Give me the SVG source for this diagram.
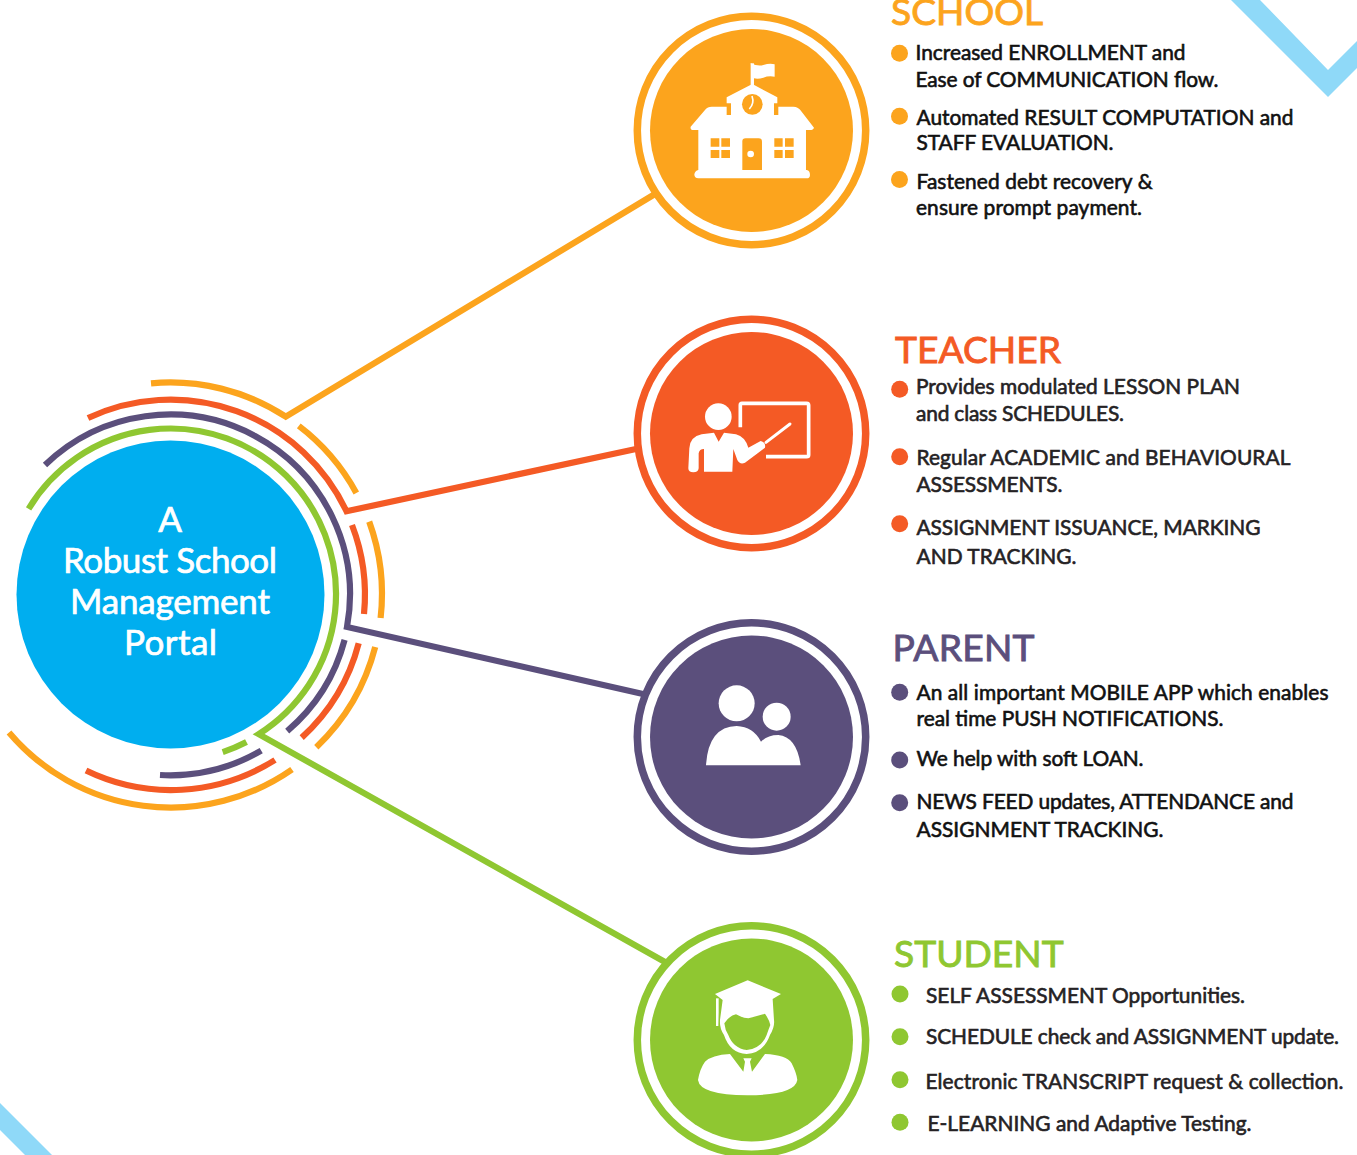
<svg xmlns="http://www.w3.org/2000/svg" width="1357" height="1155" viewBox="0 0 1357 1155">
<style>
text{font-family:"Lato","Liberation Sans",sans-serif}
.b{font-size:20.9px;font-weight:400;fill:#111;stroke:#111;stroke-width:.6}
.g{fill:#252224;stroke:#252224}
.h{font-size:37.2px;font-weight:400;stroke-width:.9}
.t{font-size:35px;font-weight:400;fill:#fff;stroke:#fff;stroke-width:.7;text-anchor:middle}
.arc{fill:none;stroke-width:6.2;stroke-miterlimit:12}
.o{stroke:#fca41d}.r{stroke:#f45a25}.p{stroke:#5b4f7c}.v{stroke:#8fc731}
.fo{fill:#fca41d}.fr{fill:#f45a25}.fp{fill:#5b4f7c}.fv{fill:#8fc731}
.ring{fill:none;stroke-width:7.5}
.w{fill:#fff}
</style>
<g id="decor">
<polygon points="1231,0 1260,0 1328,70 1357,41 1357,68 1328,97" fill="#8fd9f8"/>
<polygon points="0,1103 0,1130 25,1155 52,1155" fill="#8fd9f8"/>
</g>
<g id="connectors">
<path class="arc o" d="M151,383.300 A211.500,211.500 0 0 1 285.800,416.700 L655,194"/>
<path class="arc o" d="M298.800,425.900 A211.500,211.500 0 0 1 356.300,492.900"/>
<path class="arc o" d="M369.200,521.600 A211.500,211.500 0 0 1 380.600,618"/>
<path class="arc o" d="M375.200,647 A211.500,211.500 0 0 1 316.300,747.200"/>
<path class="arc o" d="M292,769.500 A212,212 0 0 1 9,732.500"/>
<path class="arc r" d="M88,418 A194.500,194.500 0 0 1 346.500,511.300 L636,449"/>
<path class="arc r" d="M352,525 A194.500,194.500 0 0 1 364,614"/>
<path class="arc r" d="M358.700,643.200 A194.500,194.500 0 0 1 301.700,737.600"/>
<path class="arc r" d="M275,760 A195,195 0 0 1 86,770.500"/>
<path class="arc p" d="M45,465 A180,180 0 0 1 347,627 L643,694"/>
<path class="arc p" d="M344.600,639.900 A180,180 0 0 1 287.200,731.100"/>
<path class="arc p" d="M261.200,750.600 A181,181 0 0 1 160,775"/>
<path class="arc v" d="M28.600,508.900 A165.500,165.500 0 1 1 258.700,734.100 L665,962"/>
<path class="arc v" d="M246.500,742 A166.500,166.500 0 0 1 222.700,752.100"/>
</g>
<g id="hub">
<circle cx="170.500" cy="594.500" r="154" fill="#00aeef"/>
<text class="t" x="170" y="532">A</text>
<text class="t" x="170" y="573" textLength="214">Robust School</text>
<text class="t" x="170" y="614" textLength="200">Management</text>
<text class="t" x="170.500" y="655" textLength="93">Portal</text>
</g>
<g id="school">
<circle class="ring o" cx="751.500" cy="130.500" r="114.200"/>
<circle class="fo" cx="751.500" cy="130.500" r="101.500"/>
<g transform="translate(630,10) scale(.3333)">
<rect class="w" x="362" y="160" width="10" height="65"/>
<path class="w" d="M362,160 Q385,170 400,165 Q420,158 434,163 L434,200 Q415,197 400,203 Q385,208 372,205 Z"/>
<path class="w" d="M367,222 L442,262 V280 H432 V315 H445 V290 H490 Q505,290 515,305 L552,353 Q550,360 540,360 H528 V480 H530 Q540,482 540,495 Q540,505 530,505 H205 Q193,505 193,493 Q195,482 205,480 V360 H190 Q180,360 182,350 L225,300 Q233,290 245,290 H290 V315 H303 V280 H290 V262 Z"/>
<circle class="fo" cx="367" cy="283" r="31"/>
<path d="M366,258 Q374,280 358,297" fill="none" stroke="#fff" stroke-width="5"/>
<path class="fo" d="M242,385h26v25h-26zM274,385h26v25h-26zM242,420h26v24h-26zM274,420h26v24h-26zM433,385h25v25h-25zM465,385h26v25h-26zM433,420h25v24h-25zM465,420h26v24h-26z"/>
<path class="fo" d="M337,480 V395 Q337,385 347,385 H386 Q396,385 396,395 V480 Z"/>
<circle class="w" cx="362" cy="432" r="10"/>
</g>
<text class="h fo o" x="891" y="24.500">SCHOOL</text>
<circle class="fo" cx="899.500" cy="53.300" r="8.500"/>
<circle class="fo" cx="899.500" cy="116.300" r="8.500"/>
<circle class="fo" cx="899.500" cy="179.500" r="8.500"/>
<text class="b" x="915.500" y="60" textLength="270">Increased ENROLLMENT and</text>
<text class="b" x="915.500" y="87" textLength="303">Ease of COMMUNICATION flow.</text>
<text class="b" x="916.500" y="125" textLength="377">Automated RESULT COMPUTATION and</text>
<text class="b" x="916.500" y="149.500" textLength="197">STAFF EVALUATION.</text>
<text class="b" x="916.500" y="189" textLength="236">Fastened debt recovery &amp;</text>
<text class="b" x="916" y="215" textLength="226">ensure prompt payment.</text>
</g>
<g id="teacher">
<circle class="ring r" cx="751.500" cy="433.500" r="114.200"/>
<circle class="fr" cx="751.500" cy="433.500" r="101.500"/>
<g transform="translate(630,315) scale(.3333)">
<circle class="w" cx="265" cy="305" r="40"/>
<path class="w" d="M178,400 Q180,365 215,358 L252,353 L266,380 L282,353 L318,358 Q345,365 355,398 L392,378 Q408,382 405,398 L345,443 Q330,450 322,435 L310,402 L307,470 H222 V402 Q208,402 206,415 L206,460 Q205,472 190,472 Q175,472 175,460 Z"/>
<path d="M408,382 L480,327" stroke="#fff" stroke-width="9" stroke-linecap="round"/>
<path d="M331,337 V270 Q331,265 336,265 H530 Q536,265 536,271 V420 Q536,425 530,425 H408" fill="none" stroke="#fff" stroke-width="11"/>
</g>
<text class="h fr r" x="895" y="362.700">TEACHER</text>
<circle class="fr" cx="899.700" cy="389.300" r="8.500"/>
<circle class="fr" cx="899.700" cy="456.700" r="8.500"/>
<circle class="fr" cx="899.700" cy="523.700" r="8.500"/>
<text class="b g" x="916" y="394" textLength="324">Provides modulated LESSON PLAN</text>
<text class="b g" x="916" y="420.500" textLength="208">and class SCHEDULES.</text>
<text class="b g" x="916.500" y="465" textLength="374">Regular ACADEMIC and BEHAVIOURAL</text>
<text class="b g" x="916.500" y="491.700" textLength="146">ASSESSMENTS.</text>
<text class="b g" x="916.500" y="535" textLength="344">ASSIGNMENT ISSUANCE, MARKING</text>
<text class="b g" x="916.500" y="564" textLength="160">AND TRACKING.</text>
</g>
<g id="parent">
<circle class="ring p" cx="751.500" cy="737" r="114.200"/>
<circle class="fp" cx="751.500" cy="737" r="101.500"/>
<g transform="translate(680,670) scale(.3333)">
<circle class="w" cx="170" cy="100" r="54"/>
<circle class="w" cx="290" cy="140" r="42"/>
<path class="w" d="M78,286 Q85,170 170,168 Q220,170 243,215 Q262,195 295,195 Q350,200 362,286 Z"/>
</g>
<text class="h fp p" x="892.500" y="660.700" textLength="142">PARENT</text>
<circle class="fp" cx="899.700" cy="692.300" r="8.500"/>
<circle class="fp" cx="899.700" cy="760" r="8.500"/>
<circle class="fp" cx="899.700" cy="802.700" r="8.500"/>
<text class="b" x="916.500" y="700" textLength="412">An all important MOBILE APP which enables</text>
<text class="b" x="916.500" y="726" textLength="307">real time PUSH NOTIFICATIONS.</text>
<text class="b" x="916.500" y="765.700" textLength="227">We help with soft LOAN.</text>
<text class="b" x="916.500" y="809" textLength="377">NEWS FEED updates, ATTENDANCE and</text>
<text class="b" x="916.500" y="836.700" textLength="247">ASSIGNMENT TRACKING.</text>
</g>
<g id="student">
<circle class="ring v" cx="751.500" cy="1040" r="114.200"/>
<circle class="fv" cx="751.500" cy="1040" r="101.500"/>
<g transform="translate(630,920) scale(.3333)">
<path class="w" d="M353,181 L453,222 L428,237 L432,300 Q435,320 420,345 Q400,400 350,402 Q300,400 282,345 Q268,325 270,300 L278,240 L255,222 Z"/>
<path class="fv" d="M283,310 Q300,285 318,283 Q340,295 355,295 Q380,288 405,281 Q418,300 421,315 Q415,330 410,345 Q395,385 350,390 Q310,385 295,345 Q285,330 283,310 Z"/>
<path d="M262,235 V318" stroke="#fff" stroke-width="8"/>
<path d="M270,240 L267,318" stroke="#8fc731" stroke-width="3"/>
<path class="w" d="M300,402 L340,455 L345,425 L340,415 H365 L360,425 L366,455 L405,402 Q470,405 485,430 Q500,460 502,480 Q495,525 352,526 Q210,525 204,480 Q210,445 225,425 Q245,405 300,402 Z"/>
</g>
<text class="h fv v" x="894" y="967.300">STUDENT</text>
<circle class="fv" cx="900" cy="994" r="8.500"/>
<circle class="fv" cx="900" cy="1036.700" r="8.500"/>
<circle class="fv" cx="900" cy="1079.700" r="8.500"/>
<circle class="fv" cx="900" cy="1122.300" r="8.500"/>
<text class="b g" x="926" y="1002.700" textLength="319">SELF ASSESSMENT Opportunities.</text>
<text class="b g" x="926" y="1044" textLength="413">SCHEDULE check and ASSIGNMENT update.</text>
<text class="b g" x="925.500" y="1089" textLength="418">Electronic TRANSCRIPT request &amp; collection.</text>
<text class="b g" x="927.500" y="1131" textLength="324">E-LEARNING and Adaptive Testing.</text>
</g>
</svg>
